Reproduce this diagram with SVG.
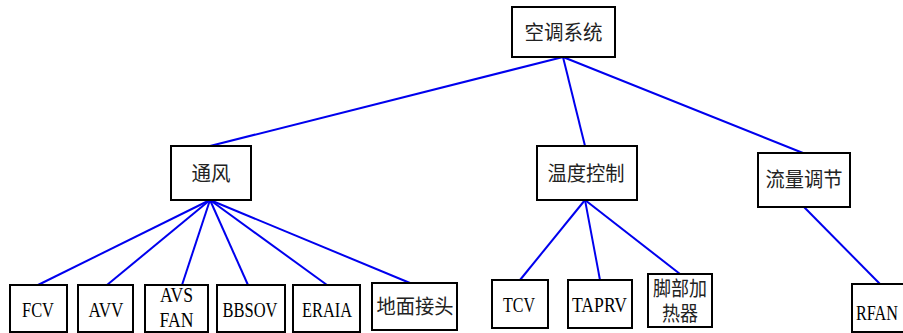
<svg xmlns="http://www.w3.org/2000/svg" width="903" height="333" viewBox="0 0 903 333">
<style>
.box{fill:#fff;stroke:#000;stroke-width:2}
.lat{font-family:"Liberation Serif","Times New Roman",serif;font-size:22px;fill:#000;text-anchor:middle}
.cjk{font-family:"Liberation Serif","Noto Sans CJK SC",sans-serif;font-size:20px;fill:#222;text-anchor:middle}
.ln{stroke:#0000ee;stroke-width:2;fill:none}
</style>
<rect width="903" height="333" fill="#fff"/>
<g id="connectors">
<line class="ln" x1="563" y1="57" x2="210" y2="146"/>
<line class="ln" x1="563" y1="57" x2="585" y2="146"/>
<line class="ln" x1="563" y1="57" x2="803" y2="153"/>
<line class="ln" x1="210" y1="200" x2="38" y2="285"/>
<line class="ln" x1="210" y1="200" x2="107" y2="285"/>
<line class="ln" x1="210" y1="200" x2="182" y2="285"/>
<line class="ln" x1="210" y1="200" x2="248" y2="285"/>
<line class="ln" x1="210" y1="200" x2="327" y2="285"/>
<line class="ln" x1="210" y1="200" x2="410" y2="283"/>
<line class="ln" x1="585" y1="200" x2="520" y2="280"/>
<line class="ln" x1="585" y1="200" x2="600" y2="280"/>
<line class="ln" x1="585" y1="200" x2="680" y2="274"/>
<line class="ln" x1="804" y1="207" x2="880" y2="284"/>
</g>
<g id="n-root"><rect class="box" x="512" y="7" width="103" height="50"/><text class="cjk" x="563.5" y="40" textLength="78" lengthAdjust="spacingAndGlyphs">空调系统</text></g>
<g id="n-vent"><rect class="box" x="171" y="146" width="80" height="54"/><text class="cjk" x="211" y="181" textLength="39" lengthAdjust="spacingAndGlyphs">通风</text></g>
<g id="n-temp"><rect class="box" x="537" y="146" width="100" height="54"/><text class="cjk" x="586" y="181" textLength="77" lengthAdjust="spacingAndGlyphs">温度控制</text></g>
<g id="n-flow"><rect class="box" x="758" y="153" width="92" height="54"/><text class="cjk" x="804" y="187" textLength="77" lengthAdjust="spacingAndGlyphs">流量调节</text></g>
<g id="n-fcv"><rect class="box" x="10" y="285" width="57" height="47"/><text class="lat" x="38" y="317" textLength="32" lengthAdjust="spacingAndGlyphs">FCV</text></g>
<g id="n-avv"><rect class="box" x="78" y="285" width="55" height="47"/><text class="lat" x="106" y="317" textLength="35" lengthAdjust="spacingAndGlyphs">AVV</text></g>
<g id="n-avsfan"><rect class="box" x="145" y="285" width="63" height="47"/><text class="lat" x="176.5" y="302" textLength="33" lengthAdjust="spacingAndGlyphs">AVS</text><text class="lat" x="176.5" y="327" textLength="34" lengthAdjust="spacingAndGlyphs">FAN</text></g>
<g id="n-bbsov"><rect class="box" x="217" y="285" width="68" height="47"/><text class="lat" x="250" y="317" textLength="55" lengthAdjust="spacingAndGlyphs">BBSOV</text></g>
<g id="n-eraia"><rect class="box" x="293" y="285" width="67" height="47"/><text class="lat" x="327" y="317" textLength="50" lengthAdjust="spacingAndGlyphs">ERAIA</text></g>
<g id="n-gnd"><rect class="box" x="372" y="283" width="85" height="47"/><text class="cjk" x="415" y="314" textLength="77" lengthAdjust="spacingAndGlyphs">地面接头</text></g>
<g id="n-tcv"><rect class="box" x="492" y="280" width="56" height="48"/><text class="lat" x="519" y="312" textLength="32" lengthAdjust="spacingAndGlyphs">TCV</text></g>
<g id="n-taprv"><rect class="box" x="568" y="280" width="64" height="48"/><text class="lat" x="599.5" y="312" textLength="55" lengthAdjust="spacingAndGlyphs">TAPRV</text></g>
<g id="n-foot"><rect class="box" x="648" y="274" width="64" height="53"/><text class="cjk" x="680" y="296" textLength="54" lengthAdjust="spacingAndGlyphs">脚部加</text><text class="cjk" x="680" y="321" textLength="36" lengthAdjust="spacingAndGlyphs">热器</text></g>
<g id="n-rfan"><rect class="box" x="852" y="284" width="60" height="48"/><text class="lat" x="856" y="320" style="text-anchor:start" textLength="42" lengthAdjust="spacingAndGlyphs">RFAN</text></g>
</svg>
